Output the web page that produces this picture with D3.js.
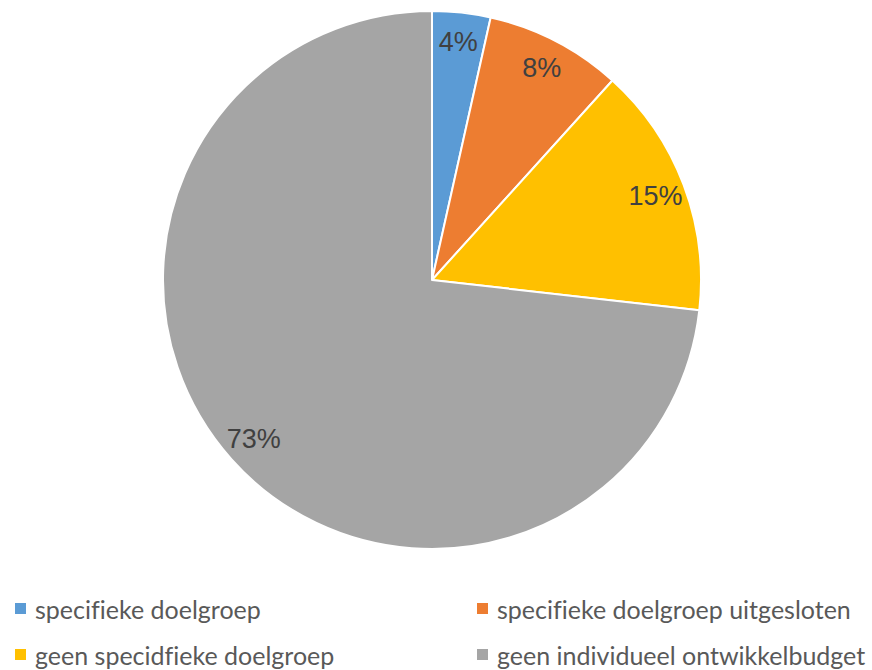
<!DOCTYPE html>
<html>
<head>
<meta charset="utf-8">
<script src="https://cdn.jsdelivr.net/npm/d3@7"></script>
<style>
  html, body { margin: 0; padding: 0; background: #fff; }
  svg { display: block; }
  text { font-variant-ligatures: none; font-feature-settings: "liga" 0; }
</style>
</head>
<body>
<svg id="chart" width="872" height="670"></svg>
<script>
// Share of respondents per category (percent)
const categories = [
  "specifieke doelgroep",
  "specifieke doelgroep uitgesloten",
  "geen specidfieke doelgroep",
  "geen individueel ontwikkelbudget"
];
const values = [3.5, 8.2, 15.1, 73.2];
const colors = ["#5B9BD5", "#ED7D31", "#FFC000", "#A5A5A5"];

const data = categories.map((c, i) => ({ category: c, value: values[i], color: colors[i] }));
const total = d3.sum(values);

const svg = d3.select("#chart");
const cx = 432, cy = 280, R = 269;

const pie = d3.pie().sort(null).value(d => d.value).startAngle(0).endAngle(2 * Math.PI);
const arc = d3.arc().innerRadius(0).outerRadius(R);
const labelArc = d3.arc().innerRadius(239).outerRadius(239);

const g = svg.append("g").attr("transform", `translate(${cx},${cy})`);
const arcs = pie(data);

g.selectAll("path.slice")
  .data(arcs)
  .join("path")
  .attr("class", "slice")
  .attr("d", arc)
  .attr("fill", d => d.data.color)
  .attr("stroke", "#fff")
  .attr("stroke-width", 2)
  .attr("stroke-linejoin", "round");

g.selectAll("text.lbl")
  .data(arcs)
  .join("text")
  .attr("class", "lbl")
  .attr("transform", d => `translate(${labelArc.centroid(d)})`)
  .attr("text-anchor", "middle")
  .attr("dominant-baseline", "central")
  .attr("font-family", "'Liberation Sans', Arial, sans-serif")
  .attr("font-size", 27)
  .attr("fill", "#404040")
  .text(d => Math.round(d.data.value / total * 100) + "%");

// Legend: two columns, two rows
const legend = svg.append("g");
const colX = [15, 477];
const rowY = [603, 649];
const items = legend.selectAll("g.item")
  .data(data)
  .join("g")
  .attr("class", "item")
  .attr("transform", (d, i) => `translate(${colX[i % 2]},${rowY[Math.floor(i / 2)]})`);

items.append("rect")
  .attr("width", 11)
  .attr("height", 11)
  .attr("fill", d => d.color);

items.append("text")
  .attr("x", 20)
  .attr("y", 16)
  .attr("font-family", "Lato, 'Open Sans', sans-serif")
  .attr("font-size", 25)
  .attr("fill", "#595959")
  .text(d => d.category);
</script>
</body>
</html>
